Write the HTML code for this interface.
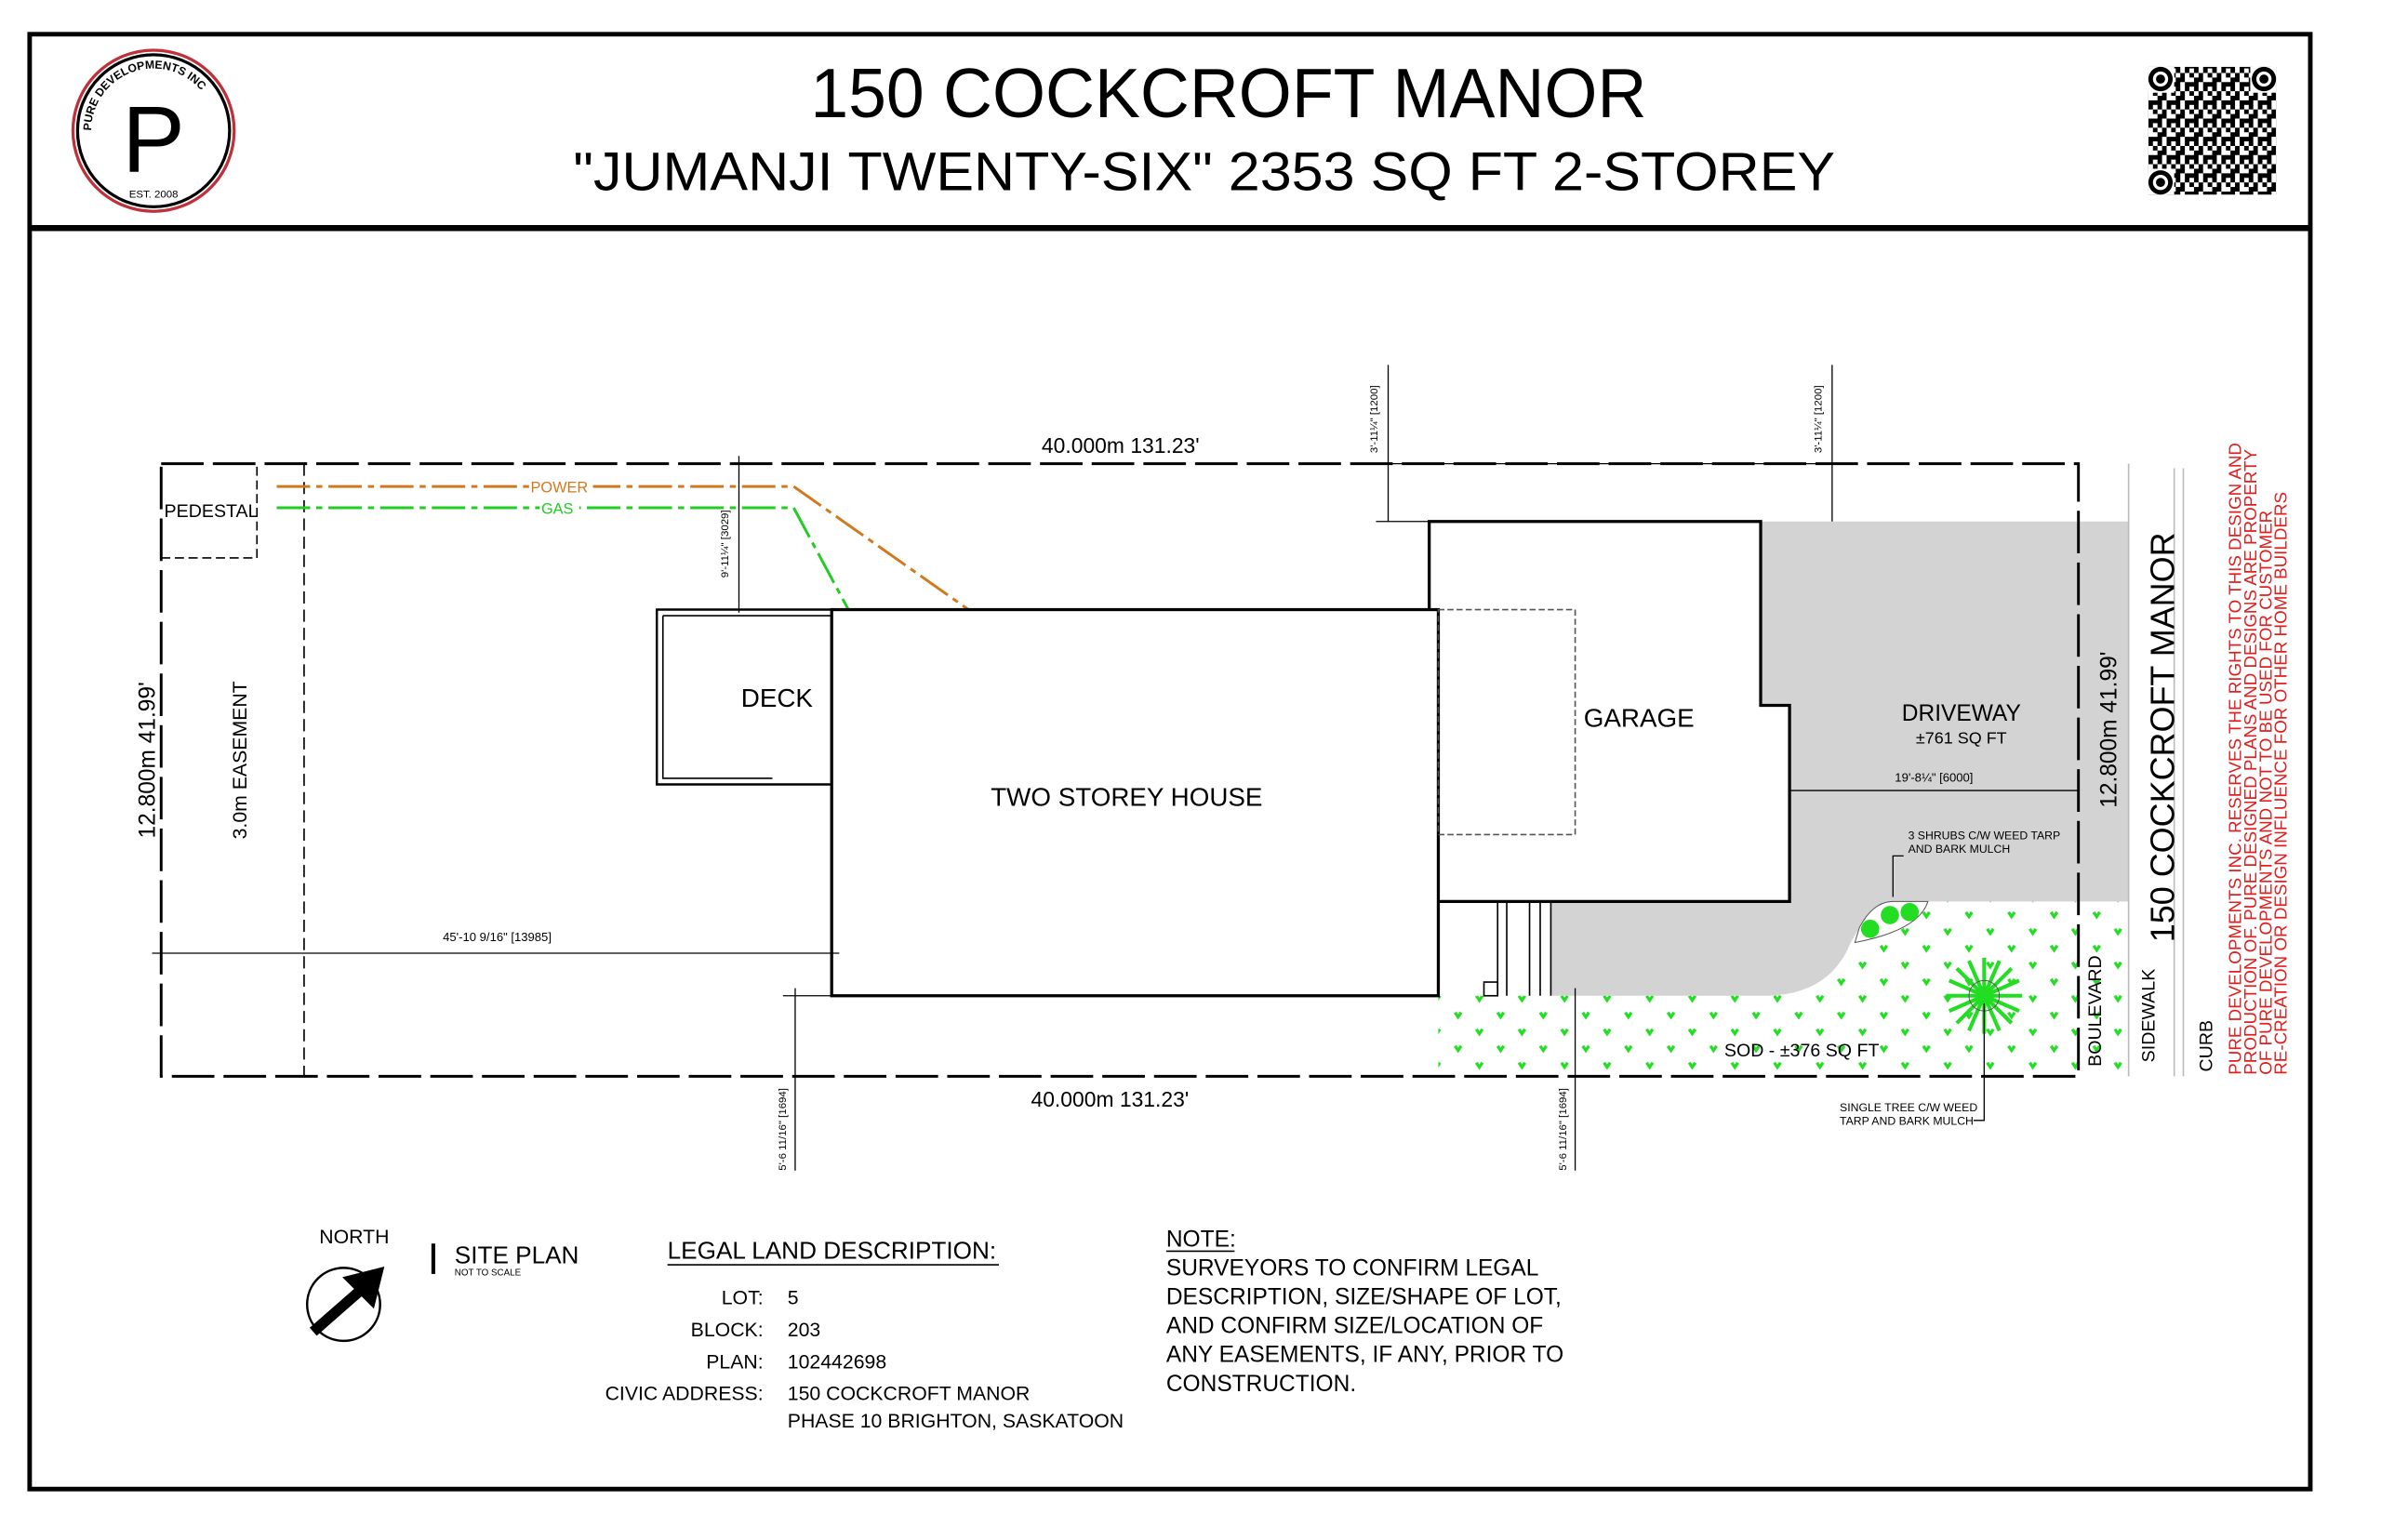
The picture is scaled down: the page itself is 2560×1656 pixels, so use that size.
<!DOCTYPE html>
<html><head><meta charset="utf-8"><style>
html,body{margin:0;padding:0;background:#fff;width:2560px;height:1656px;overflow:hidden}
svg{display:block}
text{font-family:"Liberation Sans",sans-serif}
</style></head><body>
<svg width="2560" height="1656" viewBox="0 0 1566 1013" xmlns="http://www.w3.org/2000/svg">
<defs>
<pattern id="sod" width="28" height="22" patternUnits="userSpaceOnUse">
<path d="M5 6 l2 3 l2 -3 M19 17 l2 3 l2 -3" stroke="#22dd22" stroke-width="2" fill="none"/>
</pattern>
<pattern id="qr" width="12" height="12" patternUnits="userSpaceOnUse">
<rect x="0" y="0" width="3" height="3"/><rect x="6" y="0" width="3" height="6"/><rect x="3" y="3" width="3" height="3"/>
<rect x="9" y="6" width="3" height="3"/><rect x="0" y="6" width="6" height="3"/><rect x="3" y="9" width="3" height="3"/><rect x="9" y="9" width="3" height="3"/>
</pattern>
</defs>
<rect x="0" y="0" width="1566" height="1013" fill="#fff"/>
<!-- frame -->
<rect x="19.5" y="22.5" width="1500" height="957" fill="none" stroke="#000" stroke-width="3"/>
<line x1="19" y1="150" x2="1520" y2="150" stroke="#000" stroke-width="4"/>
<!-- logo -->
<circle cx="101" cy="86" r="53" fill="none" stroke="#c0303a" stroke-width="2"/>
<circle cx="101" cy="86" r="50" fill="none" stroke="#000" stroke-width="2"/>
<text x="101" y="113" font-size="62" text-anchor="middle">P</text>
<text x="101" y="130" font-size="7" text-anchor="middle">EST. 2008</text>
<path id="arc" d="M60 86 A41 41 0 0 1 142 86" fill="none"/>
<text font-size="7.5" font-weight="bold"><textPath href="#arc">PURE DEVELOPMENTS INC</textPath></text>
<!-- titles -->
<text x="808" y="77" font-size="46" text-anchor="middle" textLength="550" lengthAdjust="spacingAndGlyphs">150 COCKCROFT MANOR</text>
<text x="792" y="125" font-size="36" text-anchor="middle" textLength="830" lengthAdjust="spacingAndGlyphs">"JUMANJI TWENTY-SIX"  2353 SQ FT 2-STOREY</text>
<!-- QR -->
<g fill="#000">
<rect x="1413" y="44" width="84" height="84" fill="url(#qr)"/>
<rect x="1413" y="44" width="17" height="17" fill="#fff"/><rect x="1480" y="44" width="17" height="17" fill="#fff"/><rect x="1413" y="111" width="17" height="17" fill="#fff"/>
<circle cx="1421" cy="52" r="8"/><circle cx="1421" cy="52" r="5" fill="#fff"/><circle cx="1421" cy="52" r="3"/>
<circle cx="1489" cy="52" r="8"/><circle cx="1489" cy="52" r="5" fill="#fff"/><circle cx="1489" cy="52" r="3"/>
<circle cx="1421" cy="120" r="8"/><circle cx="1421" cy="120" r="5" fill="#fff"/><circle cx="1421" cy="120" r="3"/>
</g>
<!-- driveway gray -->
<path d="M1158 343 H1400 V593 H1250 Q1225 600 1215 625 Q1200 655 1160 655 H1020 V593 H1177 V464 H1158 Z" fill="#d3d3d3"/>
<!-- sod -->
<path d="M946 655 H1160 Q1200 655 1215 625 Q1225 600 1250 593 H1400 V708 H946 Z" fill="url(#sod)"/>
<path d="M1223 610 Q1232 593 1245 593 H1268 Q1262 612 1220 620 Z" fill="#fff" stroke="#555" stroke-width="0.6"/>
<circle cx="1230" cy="611" r="6" fill="#22dd22"/><circle cx="1243" cy="602" r="6" fill="#22dd22"/><circle cx="1256" cy="600" r="6" fill="#22dd22"/>
<!-- tree -->
<g stroke="#22dd22" stroke-width="2.5">
<line x1="1305" y1="630" x2="1305" y2="680"/><line x1="1280" y1="655" x2="1330" y2="655"/>
<line x1="1287" y1="637" x2="1323" y2="673"/><line x1="1323" y1="637" x2="1287" y2="673"/>
<line x1="1295" y1="632" x2="1315" y2="678"/><line x1="1315" y1="632" x2="1295" y2="678"/>
<line x1="1282" y1="645" x2="1328" y2="665"/><line x1="1282" y1="665" x2="1328" y2="645"/>
</g>
<circle cx="1305" cy="655" r="10" fill="none" stroke="#555" stroke-width="0.6"/>
<!-- lot -->
<g stroke="#000" stroke-width="1.8" fill="none" stroke-dasharray="28,6">
<rect x="106" y="305" width="1261" height="403"/>
<line x1="200" y1="305" x2="200" y2="708" stroke-width="1" stroke-dasharray="8,4"/>
</g>
<path d="M106 367 H169 V305" fill="none" stroke="#000" stroke-width="1" stroke-dasharray="6,3"/>
<text x="108" y="340" font-size="12">PEDESTAL</text>
<!-- utilities -->
<path d="M182 320 H522 L637 401" fill="none" stroke="#d07a20" stroke-width="1.8" stroke-dasharray="22,4,4,4"/>
<path d="M182 334 H522 L558 401" fill="none" stroke="#22cc22" stroke-width="1.8" stroke-dasharray="22,4,4,4"/>
<rect x="348" y="314" width="42" height="11" fill="#fff"/><text x="349" y="324" font-size="10" fill="#d07a20">POWER</text>
<rect x="355" y="328" width="26" height="11" fill="#fff"/><text x="356" y="338" font-size="10" fill="#22cc22">GAS</text>
<!-- buildings -->
<g stroke="#000" stroke-width="2" fill="#fff">
<path d="M432 401 H547 V516 H432 Z" stroke-width="1.5"/>
<path d="M436 405 H547 M436 405 V512 H508" fill="none" stroke-width="1"/>
<path d="M940 401 V343 H1158 V464 H1177 V593 H946" fill="#fff"/>
<rect x="547" y="401" width="399" height="254"/>
</g>
<rect x="946" y="401" width="90" height="148" fill="none" stroke="#555" stroke-width="1" stroke-dasharray="4,2"/>
<g stroke="#000" stroke-width="1" fill="none">
<line x1="946" y1="593" x2="946" y2="655"/>
<line x1="985" y1="593" x2="985" y2="655"/><line x1="991" y1="593" x2="991" y2="655"/><line x1="1006" y1="593" x2="1006" y2="655"/><line x1="1013" y1="593" x2="1013" y2="655"/><line x1="1020" y1="593" x2="1020" y2="655"/>
<rect x="976" y="646" width="9" height="9"/>
</g>
<text x="511" y="465" font-size="17" text-anchor="middle">DECK</text>
<text x="741" y="530" font-size="17" text-anchor="middle">TWO STOREY HOUSE</text>
<text x="1078" y="478" font-size="17" text-anchor="middle">GARAGE</text>
<text x="1290" y="474" font-size="15" text-anchor="middle">DRIVEWAY</text>
<text x="1290" y="489" font-size="11" text-anchor="middle">±761 SQ FT</text>
<text x="1185" y="695" font-size="12" text-anchor="middle">SOD - ±376 SQ FT</text>
<!-- right strips -->
<g stroke="#bbb" stroke-width="1"><line x1="1400" y1="305" x2="1400" y2="708"/><line x1="1430" y1="308" x2="1430" y2="708"/><line x1="1436" y1="308" x2="1436" y2="708"/></g>
<text transform="translate(1430,485) rotate(-90)" font-size="22" text-anchor="middle">150 COCKCROFT MANOR</text>
<text transform="translate(1392,480) rotate(-90)" font-size="15" text-anchor="middle">12.800m 41.99'</text>
<text transform="translate(102,500) rotate(-90)" font-size="15" text-anchor="middle">12.800m 41.99'</text>
<text transform="translate(162,500) rotate(-90)" font-size="13" text-anchor="middle">3.0m EASEMENT</text>
<text transform="translate(1382,665) rotate(-90)" font-size="12" text-anchor="middle">BOULEVARD</text>
<text transform="translate(1417,668) rotate(-90)" font-size="12" text-anchor="middle">SIDEWALK</text>
<text transform="translate(1455,688) rotate(-90)" font-size="12" text-anchor="middle">CURB</text>
<g fill="#e02020" font-size="11.5">
<text transform="translate(1474,707) rotate(-90)">PURE DEVELOPMENTS INC. RESERVES THE RIGHTS TO THIS DESIGN AND</text>
<text transform="translate(1484,707) rotate(-90)">PRODUCTION OF. PURE DESIGNED PLANS AND DESIGNS ARE PROPERTY</text>
<text transform="translate(1494,707) rotate(-90)">OF PURE DEVELOPMENTS AND NOT TO BE USED FOR CUSTOMER</text>
<text transform="translate(1504,707) rotate(-90)">RE-CREATION OR DESIGN INFLUENCE FOR OTHER HOME BUILDERS</text>
</g>
<!-- dimensions -->
<g stroke="#000" stroke-width="0.8" fill="none">
<line x1="913" y1="240" x2="913" y2="343"/><line x1="905" y1="305" x2="1210" y2="305"/>
<line x1="1205" y1="240" x2="1205" y2="343"/><line x1="905" y1="343" x2="940" y2="343"/>
<line x1="486" y1="300" x2="486" y2="403"/>
<line x1="1177" y1="520" x2="1367" y2="520"/>
<line x1="100" y1="627" x2="552" y2="627"/>
<line x1="523" y1="650" x2="523" y2="770"/><line x1="515" y1="655" x2="547" y2="655"/>
<line x1="1036" y1="650" x2="1036" y2="770"/>
<path d="M1245 590 V563 H1252"/>
<path d="M1305 660 V737 H1298"/>
</g>
<text x="737" y="298" font-size="14" text-anchor="middle">40.000m 131.23'</text>
<text x="730" y="728" font-size="14" text-anchor="middle">40.000m 131.23'</text>
<text x="327" y="619" font-size="8" text-anchor="middle">45'-10 9/16" [13985]</text>
<text x="1272" y="514" font-size="8" text-anchor="middle">19'-8¼" [6000]</text>
<g font-size="7">
<text transform="translate(906,298) rotate(-90)">3'-11¼" [1200]</text>
<text transform="translate(1198,298) rotate(-90)">3'-11¼" [1200]</text>
<text transform="translate(479,380) rotate(-90)">9'-11¼" [3029]</text>
<text transform="translate(517,770) rotate(-90)">5'-6 11/16" [1694]</text>
<text transform="translate(1030,770) rotate(-90)">5'-6 11/16" [1694]</text>
</g>
<text x="1255" y="552" font-size="7.5">3 SHRUBS C/W WEED TARP</text>
<text x="1255" y="561" font-size="7.5">AND BARK MULCH</text>
<text x="1210" y="731" font-size="7.5">SINGLE TREE C/W WEED</text>
<text x="1210" y="740" font-size="7.5">TARP AND BARK MULCH</text>
<!-- bottom -->
<text x="233" y="818" font-size="13" text-anchor="middle">NORTH</text>
<circle cx="226" cy="858" r="24" fill="#fff" stroke="#000" stroke-width="1.5"/>
<path d="M206 876 L238 848 L232 842 L248 838 L244 854 L238 848" fill="#000" stroke="#000" stroke-width="7"/>
<line x1="285" y1="818" x2="285" y2="838" stroke="#000" stroke-width="2.5"/>
<text x="299" y="831" font-size="16">SITE PLAN</text>
<text x="299" y="839" font-size="6">NOT TO SCALE</text>
<text x="439" y="828" font-size="16">LEGAL LAND DESCRIPTION:</text>
<line x1="439" y1="832" x2="657" y2="832" stroke="#000" stroke-width="1"/>
<g font-size="13">
<text x="502" y="858" text-anchor="end">LOT:</text><text x="518" y="858">5</text>
<text x="502" y="879" text-anchor="end">BLOCK:</text><text x="518" y="879">203</text>
<text x="502" y="900" text-anchor="end">PLAN:</text><text x="518" y="900">102442698</text>
<text x="502" y="921" text-anchor="end">CIVIC ADDRESS:</text><text x="518" y="921">150 COCKCROFT MANOR</text>
<text x="518" y="939">PHASE 10 BRIGHTON, SASKATOON</text>
</g>
<g font-size="15">
<text x="767" y="820">NOTE:</text>
<line x1="767" y1="823" x2="812" y2="823" stroke="#000" stroke-width="1"/>
<text x="767" y="839">SURVEYORS TO CONFIRM LEGAL</text>
<text x="767" y="858">DESCRIPTION, SIZE/SHAPE OF LOT,</text>
<text x="767" y="877">AND CONFIRM SIZE/LOCATION OF</text>
<text x="767" y="896">ANY EASEMENTS, IF ANY, PRIOR TO</text>
<text x="767" y="915">CONSTRUCTION.</text>
</g>
</svg>
</body></html>
